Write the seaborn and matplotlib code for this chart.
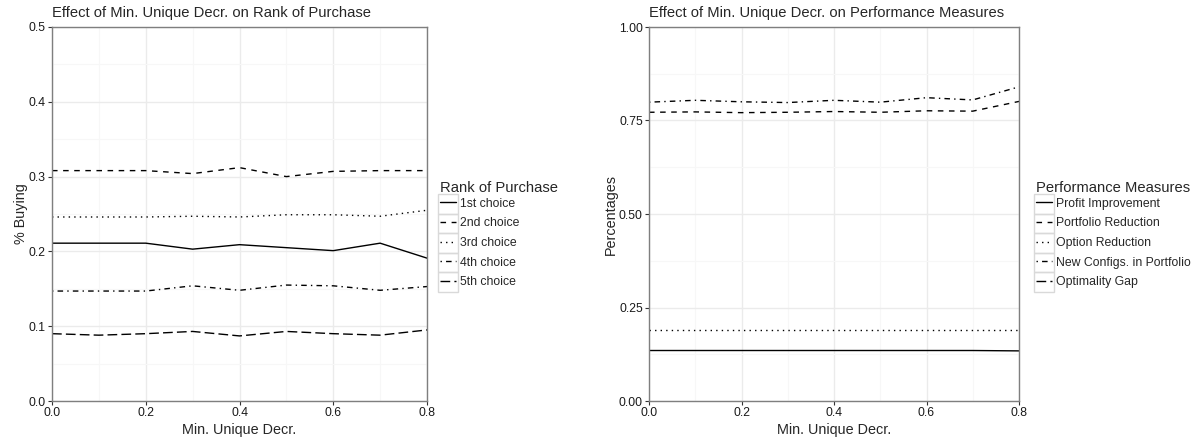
import numpy as np
import pandas as pd
import seaborn as sns
import matplotlib.pyplot as plt
from matplotlib.lines import Line2D
from matplotlib.patches import Rectangle
from matplotlib.ticker import FormatStrFormatter, MultipleLocator

# data
min_unique = [0.0, 0.1, 0.2, 0.3, 0.4, 0.5, 0.6, 0.7, 0.8]

rank_labels = ['1st choice', '2nd choice', '3rd choice', '4th choice', '5th choice']
first = [0.211, 0.211, 0.211, 0.203, 0.209, 0.205, 0.201, 0.211, 0.191]
second = [0.308, 0.308, 0.308, 0.304, 0.312, 0.300, 0.307, 0.308, 0.308]
third = [0.246, 0.246, 0.246, 0.247, 0.246, 0.249, 0.249, 0.247, 0.255]
fourth = [0.147, 0.147, 0.147, 0.154, 0.148, 0.155, 0.154, 0.148, 0.153]
fifth = [0.090, 0.088, 0.090, 0.093, 0.087, 0.093, 0.090, 0.088, 0.095]

perf_labels = ['Profit Improvement', 'Portfolio Reduction', 'Option Reduction',
               'New Configs. in Portfolio', 'Optimality Gap']
profit_impr = [0.135, 0.135, 0.135, 0.135, 0.135, 0.135, 0.135, 0.135, 0.134]
portfolio_red = [0.772, 0.773, 0.771, 0.772, 0.774, 0.772, 0.776, 0.775, 0.801]
option_red = [0.190, 0.190, 0.190, 0.190, 0.190, 0.190, 0.190, 0.190, 0.190]
new_configs = [0.799, 0.804, 0.800, 0.798, 0.804, 0.799, 0.811, 0.805, 0.840]
# optimality gap has no visible line in the reference, only a legend entry

# ggplot-ish linetypes: solid, dashed, dotted, dotdash, longdash
line_dashes = [None, (4, 4), (1, 3), (1, 3, 4, 3), (7, 3)]

rank_df = pd.DataFrame({'x': min_unique * 5,
                        'y': first + second + third + fourth + fifth,
                        'rank': np.repeat(rank_labels, len(min_unique))})
perf_df = pd.DataFrame({'x': min_unique * 4,
                        'y': profit_impr + portfolio_red + option_red + new_configs,
                        'measure': np.repeat(perf_labels[:4], len(min_unique))})

sns.set_style('white')
plt.rcParams['font.family'] = ['Liberation Sans', 'DejaVu Sans']

W, H = 1196, 444
fig = plt.figure(figsize=(W / 100, H / 100), dpi=100)
ax1 = fig.add_axes([52 / W, 1 - 401 / H, (427 - 52) / W, (401 - 27) / H])
ax2 = fig.add_axes([649 / W, 1 - 401 / H, (1019 - 649) / W, (401 - 27) / H])


def dash_map(labels):
    return {lab: ('' if d is None else d) for lab, d in zip(labels, line_dashes)}


sns.lineplot(data=rank_df, x='x', y='y', style='rank', dashes=dash_map(rank_labels),
             color='black', linewidth=1.0, legend=False, ax=ax1)
sns.lineplot(data=perf_df, x='x', y='y', style='measure', dashes=dash_map(perf_labels[:4]),
             color='black', linewidth=1.0, legend=False, ax=ax2)


def style_axes(ax, ymax, ymaj, fmt, ylabel, title):
    ax.set_xlim(0, 0.8)
    ax.set_ylim(0, ymax)
    ax.xaxis.set_major_locator(MultipleLocator(0.2))
    ax.xaxis.set_minor_locator(MultipleLocator(0.1))
    ax.yaxis.set_major_locator(MultipleLocator(ymaj))
    ax.yaxis.set_minor_locator(MultipleLocator(ymaj / 2))
    ax.xaxis.set_major_formatter(FormatStrFormatter('%.1f'))
    ax.yaxis.set_major_formatter(FormatStrFormatter(fmt))
    ax.grid(which='major', color='#EBEBEB', linewidth=1.0)
    ax.grid(which='minor', color='#F7F7F7', linewidth=0.8)
    ax.set_axisbelow(True)
    for sp in ax.spines.values():
        sp.set_color('#7F7F7F')
        sp.set_linewidth(1.0)
    ax.tick_params(which='major', direction='out', length=3, width=0.8, color='#333333',
                   labelsize=8.8, labelcolor='#1a1a1a', pad=1.5, bottom=True, left=True)
    ax.tick_params(which='minor', length=0)
    ax.set_xlabel('Min. Unique Decr.', fontsize=10.4, labelpad=3)
    ax.set_ylabel(ylabel, fontsize=10.4, labelpad=0.5)
    ax.set_title(title, loc='left', fontsize=10.6, pad=7)


style_axes(ax1, 0.5, 0.1, '%.1f', '% Buying', 'Effect of Min. Unique Decr. on Rank of Purchase')
style_axes(ax2, 1.0, 0.25, '%.2f', 'Percentages', 'Effect of Min. Unique Decr. on Performance Measures')


def make_legend(labels, title, x_left):
    handles = [Line2D([], [], color='black', linewidth=1.0,
                      linestyle='-' if d is None else (0, d)) for d in line_dashes]
    leg = fig.legend(handles, labels, title=title, loc='upper left',
                     bbox_to_anchor=(x_left / W, 1 - 181 / H), frameon=False,
                     fontsize=8.8, title_fontsize=10.6, handlelength=1.3,
                     handletextpad=0.35, labelspacing=0.62, borderpad=0,
                     borderaxespad=0, alignment='left')
    leg._legend_box.sep = 2
    return leg


leg1 = make_legend(rank_labels, 'Rank of Purchase', 440)
leg2 = make_legend(perf_labels, 'Performance Measures', 1036)

# grey key boxes like ggplot legend keys
fig.canvas.draw()
for leg in (leg1, leg2):
    texts = leg.get_texts()
    lines = leg.legend_handles
    ys = [t.get_window_extent().y0 + t.get_window_extent().height / 2 for t in texts]
    step = abs(ys[0] - ys[1])
    hb = lines[0].get_window_extent()
    x0 = hb.x0 - 2
    w = hb.width + 4
    for yc in ys:
        fig.patches.append(Rectangle((x0 / W, (yc - step / 2) / H), w / W, step / H,
                                     transform=fig.transFigure, fill=False,
                                     edgecolor='#D9D9D9', linewidth=1.0))

fig.savefig('out.png', dpi=100)
